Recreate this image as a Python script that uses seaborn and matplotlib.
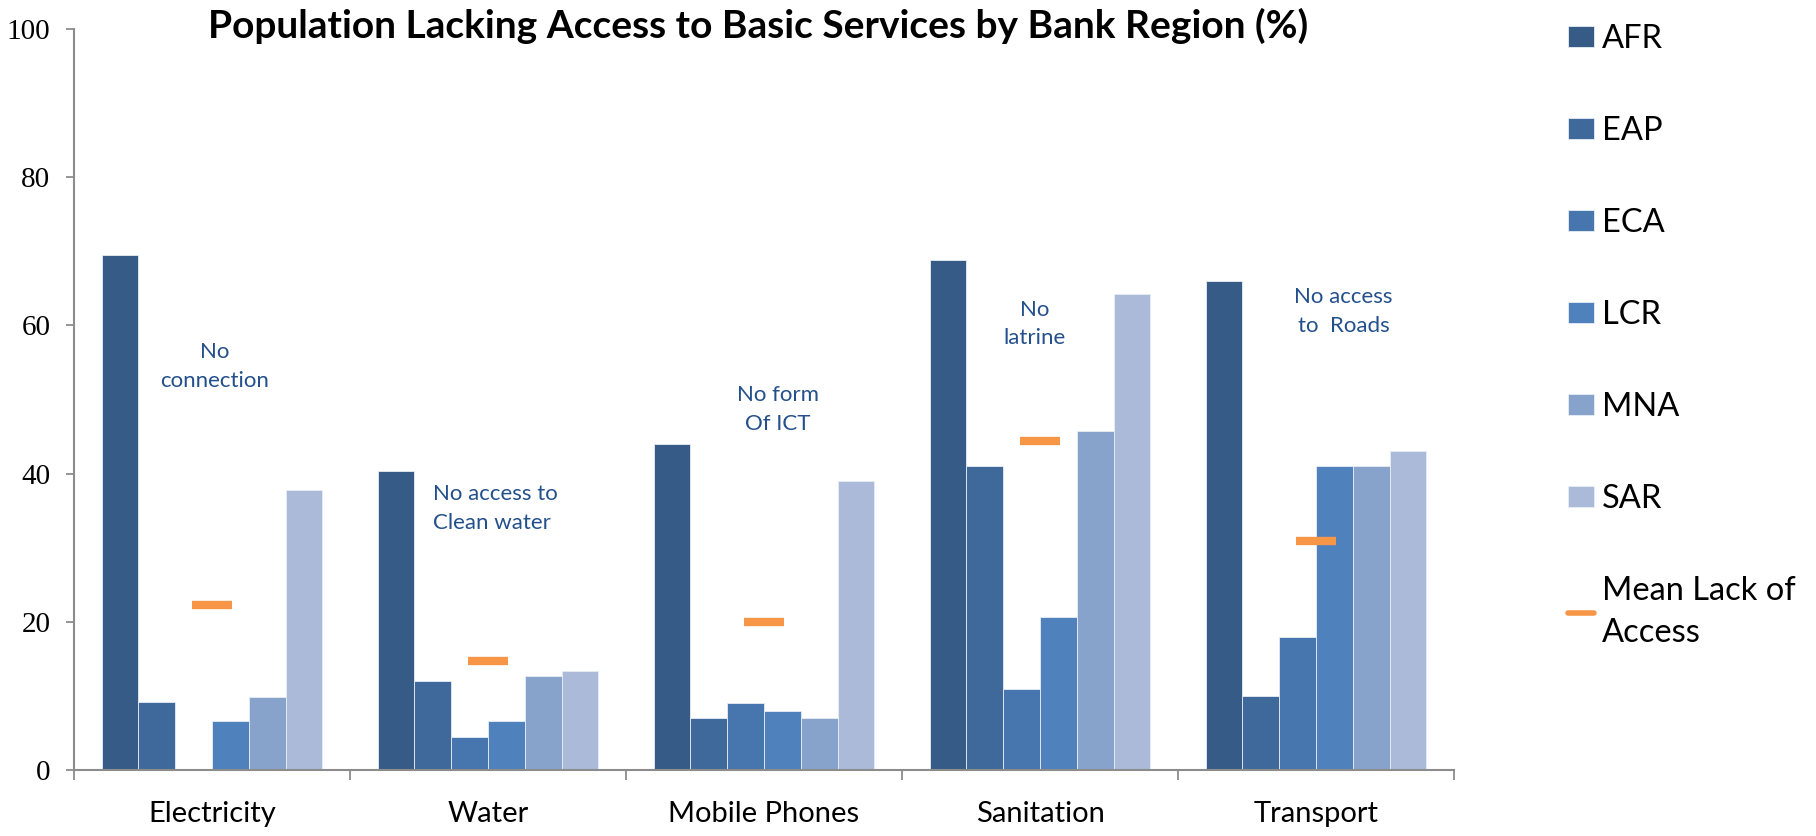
import numpy as np
import pandas as pd
import matplotlib
matplotlib.use("Agg")
import matplotlib.pyplot as plt
import seaborn as sns
from matplotlib.lines import Line2D

# ---------------- data ----------------
categories = ["Electricity", "Water", "Mobile Phones", "Sanitation", "Transport"]
regions = ["AFR", "EAP", "ECA", "LCR", "MNA", "SAR"]
afr = [69.5, 40.3, 44.0, 68.8, 66.0]
eap = [9.2, 12.0, 7.0, 41.0, 10.0]
eca = [0.0, 4.5, 9.0, 10.9, 18.0]
lcr = [6.6, 6.6, 8.0, 20.6, 41.0]
mna = [9.8, 12.7, 7.0, 45.7, 41.0]
sar = [37.8, 13.3, 39.0, 64.3, 43.0]
mean_lack = [22.3, 14.7, 20.0, 44.4, 30.9]
yticks = [0, 20, 40, 60, 80, 100]
notes = ["No\nconnection", "No access to\nClean water", "No form\nOf ICT",
         "No\nlatrine", "No access\nto  Roads"]
title = "Population Lacking Access to Basic Services by Bank Region (%)"
mean_label = "Mean Lack of\nAccess"

# ---------------- style ----------------
sns.set_theme(style="white")
plt.rcParams["font.family"] = ["Lato", "DejaVu Sans"]

colors = ["#365B87", "#3F699B", "#4775AD", "#4F81BD", "#87A2CB", "#ABBAD8"]
orange = "#F79646"
note_color = "#23508C"
spine_gray = "#8C8C8C"

series = [afr, eap, eca, lcr, mna, sar]
long = pd.DataFrame({
    "category": [c for s in series for c in categories],
    "region": [r for r, s in zip(regions, series) for _ in s],
    "value": [v for s in series for v in s],
})

fig = plt.figure(figsize=(18.16, 8.36), dpi=100)
ax = fig.add_axes([74 / 1816, 1 - 770 / 836, 1380 / 1816, 741 / 836])

sns.barplot(data=long, x="category", y="value", hue="region",
            order=categories, hue_order=regions, palette=colors,
            saturation=1, width=0.8, edgecolor="#E8EDF5", linewidth=0.6,
            ax=ax, legend=True)

xs = np.arange(len(categories))
ax.plot(xs, mean_lack, ls="none", marker="_", ms=29.5, mew=6, color=orange,
        label=mean_label, zorder=5)

ax.set_xlim(-0.5, len(categories) - 0.5)
ax.set_ylim(0, 100)
ax.set_xlabel("")
ax.set_ylabel("")

# spines
for s in ["top", "right"]:
    ax.spines[s].set_visible(False)
for s in ["left", "bottom"]:
    ax.spines[s].set_color(spine_gray)
    ax.spines[s].set_linewidth(1.5)

# y ticks
ax.set_yticks(yticks)
ax.set_yticklabels([str(t) for t in yticks], family="Liberation Serif", fontsize=21)
ax.tick_params(axis="y", which="major", length=6, width=1.3, color=spine_gray,
               direction="out", left=True, pad=11, labelcolor="black")

# x ticks
ax.set_xticks(xs)
ax.set_xticklabels(categories, fontsize=21, color="black")
ax.tick_params(axis="x", which="major", length=0, pad=22)
ax.set_xticks(np.arange(-0.5, len(categories), 1), minor=True)
ax.tick_params(axis="x", which="minor", length=7, width=1.3, color=spine_gray,
               direction="out", bottom=True)

# annotations
note_pos = [(0.01, 54.5, "center"), (0.80, 35.3, "left"), (2.05, 48.7, "center"),
            (2.98, 60.2, "center"), (4.10, 61.9, "center")]
for txt, (x, y, ha) in zip(notes, note_pos):
    ax.text(x, y, txt, ha=ha, va="center", fontsize=16, color=note_color,
            linespacing=1.55, multialignment=ha)

# title
fig.text(758 / 1816, 1 - 26 / 836, title, ha="center", va="center",
         fontsize=28, fontweight="bold", color="black")

# legend
handles, labels = ax.get_legend_handles_labels()
lab2h = dict(zip(labels, handles))
hs = [lab2h[r] for r in regions] + [Line2D([], [], color=orange, lw=4)]
ls = regions + [mean_label]
leg = ax.legend(hs, ls, loc="upper left", bbox_to_anchor=(1568 / 1816, 1 - 24 / 836),
                bbox_transform=fig.transFigure, frameon=False, fontsize=23.5,
                handlelength=0.8, handleheight=0.6, handletextpad=0.25,
                labelspacing=1.9, borderpad=0, borderaxespad=0)
for t in leg.get_texts():
    t.set_color("black")
    t.set_linespacing(1.5)

fig.savefig("out.png", dpi=100, facecolor="white")
